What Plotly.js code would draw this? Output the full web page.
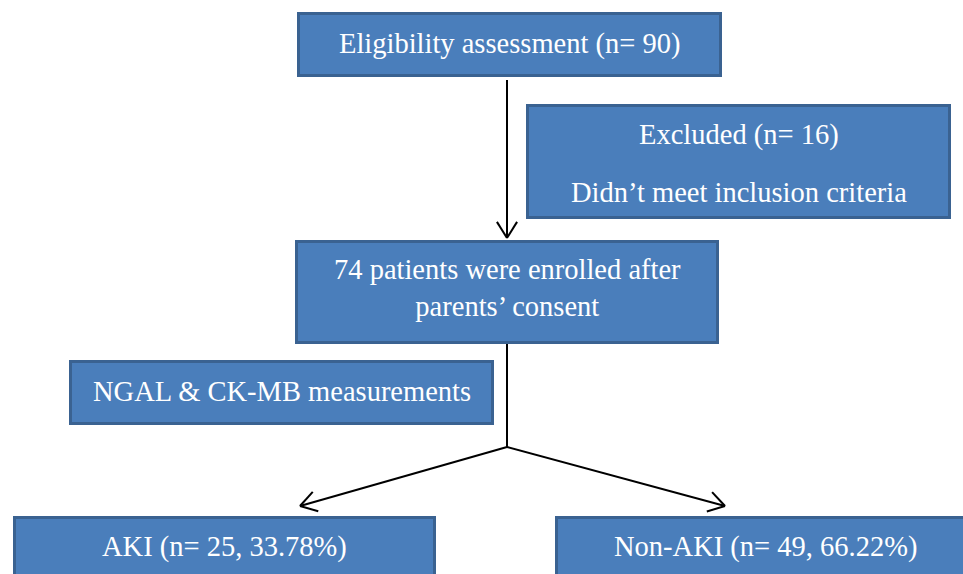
<!DOCTYPE html>
<html>
<head>
<meta charset="utf-8">
<script src="https://cdn.plot.ly/plotly-3.0.1.min.js"></script>
<style>
  html, body { margin: 0; padding: 0; background: #ffffff; }
  #chart { width: 963px; height: 574px; }
</style>
</head>
<body>
<div id="chart"></div>
<script>
// ---- data ----
const assessedN = 90;
const excludedN = 16;
const enrolledN = 74;
const groupNames = ["AKI", "Non-AKI"];
const groupCounts = [25, 49];
const groupPercents = ["33.78", "66.22"];
const stepLabels = [
  "Eligibility assessment (n= " + assessedN + ")",
  enrolledN + " patients were enrolled after<br>parents’ consent",
  "NGAL & CK-MB measurements"
];
const excludedLabels = ["Excluded (n= " + excludedN + ")", "Didn’t meet inclusion criteria"];
const groupLabels = groupNames.map((g, i) => g + " (n= " + groupCounts[i] + ", " + groupPercents[i] + "%)");

// ---- layout geometry (pixel space of the page) ----
const boxGeom = {
  assess:   {x0: 297, x1: 722, y0: 12,  y1: 77,  ty: [44]},
  excluded: {x0: 526, x1: 951, y0: 104, y1: 219, ty: [135, 192]},
  enrolled: {x0: 295, x1: 719, y0: 240, y1: 344, ty: [288]},
  measure:  {x0: 69,  x1: 494, y0: 360, y1: 425, ty: [391]},
  aki:      {x0: 13,  x1: 436, y0: 516, y1: 600, ty: [547]},
  nonaki:   {x0: 555, x1: 975, y0: 516, y1: 600, ty: [547]}
};
const boxText = {
  assess: [stepLabels[0]],
  excluded: excludedLabels,
  enrolled: [stepLabels[1]],
  measure: [stepLabels[2]],
  aki: [groupLabels[0]],
  nonaki: [groupLabels[1]]
};
const fillColor = "#4A7EBB";
const edgeColor = "#3A6291";
const edgeW = 3;
const mainX = 507;
const junctionY = 447;
const branchTips = [[300, 506], [725, 506]];

const shapes = [];
const annotations = [];

Object.keys(boxGeom).forEach(k => {
  const b = boxGeom[k];
  const h = edgeW / 2;
  shapes.push({
    type: "rect", xref: "x", yref: "y",
    x0: b.x0 + h, x1: b.x1 - h, y0: b.y0 + h, y1: b.y1 - h,
    fillcolor: fillColor, line: {color: edgeColor, width: edgeW}, layer: "below"
  });
  boxText[k].forEach((t, i) => {
    annotations.push({
      xref: "x", yref: "y", x: (b.x0 + b.x1) / 2, y: b.ty[i],
      text: t, showarrow: false, xanchor: "center", yanchor: "middle", align: "center",
      font: {family: "Liberation Serif, 'Times New Roman', serif", size: 28.5, color: "#ffffff"}
    });
  });
});

function line(x0, y0, x1, y1) {
  shapes.push({type: "line", xref: "x", yref: "y", x0, y0, x1, y1,
    line: {color: "#000000", width: 2}, layer: "above"});
}
function arrow(x0, y0, x1, y1) {
  line(x0, y0, x1, y1);
  const dx = x1 - x0, dy = y1 - y0, L = Math.hypot(dx, dy);
  const ux = dx / L, uy = dy / L;
  const len = 19, th = 32 * Math.PI / 180;
  [th, -th].forEach(a => {
    const rx = ux * Math.cos(a) - uy * Math.sin(a);
    const ry = ux * Math.sin(a) + uy * Math.cos(a);
    line(x1, y1, x1 - len * rx, y1 - len * ry);
  });
}

// connectors
arrow(mainX, boxGeom.assess.y1 + 3, mainX, boxGeom.enrolled.y0 - 2);
line(mainX, boxGeom.enrolled.y1, mainX, junctionY);
branchTips.forEach(t => arrow(mainX, junctionY, t[0], t[1]));

const layout = {
  width: 963, height: 574,
  margin: {l: 0, r: 0, t: 0, b: 0, pad: 0},
  paper_bgcolor: "#ffffff", plot_bgcolor: "#ffffff",
  xaxis: {range: [0, 963], visible: false, fixedrange: true},
  yaxis: {range: [574, 0], visible: false, fixedrange: true},
  showlegend: false,
  shapes: shapes,
  annotations: annotations
};

Plotly.newPlot("chart", [], layout, {staticPlot: true, displayModeBar: false});
</script>
</body>
</html>
